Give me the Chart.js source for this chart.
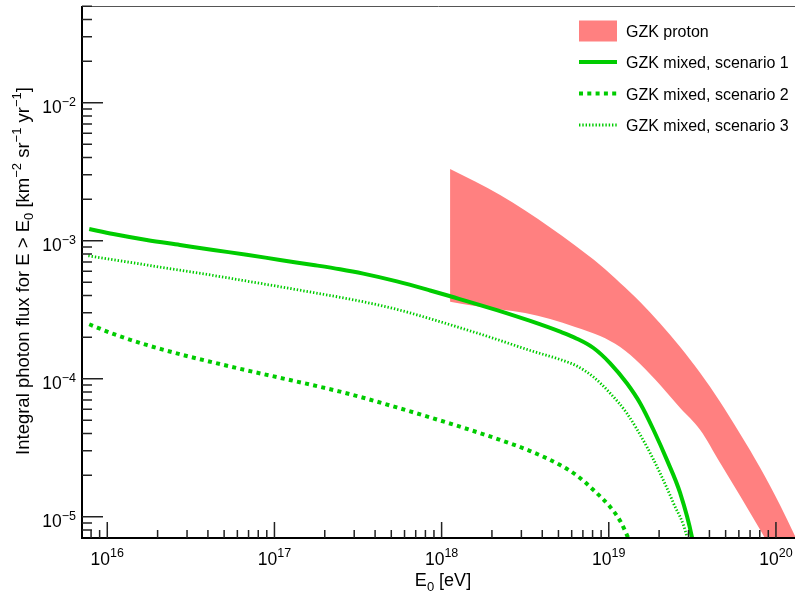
<!DOCTYPE html>
<html>
<head>
<meta charset="utf-8">
<script src="https://cdn.jsdelivr.net/npm/chart.js@4.4.0/dist/chart.umd.min.js"></script>
<style>
  html, body { margin: 0; padding: 0; background: #fff; }
</style>
</head>
<body>
<canvas id="gzkChart" width="795" height="592"></canvas>
<script>
// GZK mixed, scenario 1 (solid)
const mixed1E = [7.8e15, 1.086e16, 1.721e16, 2.72e16, 4.31e16, 6.82e16, 1.08e17, 1.709e17, 2.47e17, 3.4e17, 5.4e17, 8.54e17,
    1.124e18, 2.14e18, 3.39e18, 5.12e18, 6.44e18, 8.1e18, 1.02e19, 1.283e19, 1.54e19, 1.853e19, 2.23e19, 2.675e19, 3.14e19, 3.2e19];
const mixed1Flux = [1.216e-3, 1.118e-3, 1.012e-3, 9.31e-4, 8.56e-4, 7.92e-4, 7.25e-4, 6.67e-4, 6.21e-4, 5.77e-4, 5.07e-4, 4.36e-4,
    3.96e-4, 3.14e-4, 2.62e-4, 2.19e-4, 1.95e-4, 1.669e-4, 1.293e-4, 9.26e-5, 6.64e-5, 4.25e-5, 2.57e-5, 1.48e-5, 7.16e-6, 6.2e-6];

// GZK mixed, scenario 2 (dashed)
const mixed2E = [7.8e15, 1.086e16, 1.721e16, 2.72e16, 4.31e16, 6.82e16, 1.08e17, 1.709e17, 2.47e17, 3.4e17, 5.4e17, 8.54e17,
    1.35e18, 2.14e18, 3.39e18, 5.12e18, 6.44e18, 8.1e18, 1.02e19, 1.17e19, 1.31e19, 1.40e19];
const mixed2Flux = [2.48e-4, 2.112e-4, 1.757e-4, 1.505e-4, 1.311e-4, 1.15e-4, 1.015e-4, 8.96e-5, 8.06e-5, 7.28e-5, 6.19e-5, 5.24e-5,
    4.41e-5, 3.67e-5, 2.99e-5, 2.366e-5, 1.989e-5, 1.561e-5, 1.176e-5, 9.31e-6, 6.97e-6, 5.74e-6];

// GZK mixed, scenario 3 (dotted)
const mixed3E = [7.7e15, 1.086e16, 1.721e16, 2.72e16, 4.31e16, 6.82e16, 1.08e17, 1.709e17, 2.47e17, 3.4e17, 5.4e17, 8.54e17,
    1.35e18, 2.14e18, 3.39e18, 5.12e18, 6.44e18, 8.1e18, 1.02e19, 1.283e19, 1.69e19, 2.03e19, 2.44e19, 2.93e19, 2.99e19];
const mixed3Flux = [7.78e-4, 7.27e-4, 6.67e-4, 6.11e-4, 5.6e-4, 5.1e-4, 4.64e-4, 4.21e-4, 3.89e-4, 3.61e-4, 3.18e-4, 2.72e-4,
    2.3e-4, 1.927e-4, 1.601e-4, 1.377e-4, 1.236e-4, 1.029e-4, 7.84e-5, 5.61e-5, 3.21e-5, 2.06e-5, 1.25e-5, 7.16e-6, 6.2e-6];

// GZK proton band
const protonE = [1.124e18, 1.587e18, 2.239e18, 3.16e18, 4.46e18, 6.29e18, 8.88e18, 1.17e19, 1.541e19, 2.03e19, 2.675e19,
    3.524e19, 4.64e19, 6.11e19, 8.06e19, 1.061e20, 1.398e20];
const protonUpper = [3.31e-3, 2.685e-3, 2.144e-3, 1.655e-3, 1.246e-3, 9.23e-4, 6.67e-4, 4.94e-4, 3.6e-4, 2.512e-4, 1.697e-4,
    1.1e-4, 6.78e-5, 3.97e-5, 2.254e-5, 1.206e-5, 6.03e-6];
const protonLower = [3.61e-4, 3.36e-4, 3.17e-4, 2.99e-4, 2.71e-4, 2.369e-4, 2.039e-4, 1.697e-4, 1.278e-4, 9.0e-5, 6.13e-5,
    4.25e-5, 2.449e-5, 1.413e-5, 8.01e-6, 4.47e-6, 2.49e-6];

// axis ranges and tick labels (decade exponents)
const xRange = [7.06e15, 1.3e20];
const yRange = [7.01e-6, 5.02e-2];
const xTickExp = [16, 17, 18, 19, 20];
const yTickExp = [-5, -4, -3, -2];

const legendLabels = ["GZK proton", "GZK mixed, scenario 1", "GZK mixed, scenario 2", "GZK mixed, scenario 3"];

const FONT = '"Liberation Sans", Arial, sans-serif';
const GREEN = '#00cc00';
const PINK = '#ff8080';

const toPoints = (xs, ys) => xs.map((x, i) => ({ x: x, y: ys[i] }));

// text with sub/superscripts: parts = [text, size, dy]
function drawRich(ctx, parts, x, y, align) {
    let total = 0;
    parts.forEach(p => {
        ctx.font = p[1] + 'px ' + FONT;
        total += ctx.measureText(p[0]).width;
    });
    let cx = align === 'center' ? x - total / 2 : (align === 'right' ? x - total : x);
    parts.forEach(p => {
        ctx.font = p[1] + 'px ' + FONT;
        ctx.fillText(p[0], cx, y + p[2]);
        cx += ctx.measureText(p[0]).width;
    });
}

const rootFrame = {
    id: 'rootFrame',
    afterDraw(chart) {
        const ctx = chart.ctx;
        const a = chart.chartArea;
        const xs = chart.scales.x, ys = chart.scales.y;
        ctx.save();

        // top frame line
        ctx.strokeStyle = '#555';
        ctx.lineWidth = 1;
        ctx.beginPath();
        ctx.moveTo(a.left, a.top + 0.5);
        ctx.lineTo(a.right, a.top + 0.5);
        ctx.stroke();

        // axes
        ctx.strokeStyle = '#000';
        ctx.lineWidth = 2;
        ctx.beginPath();
        ctx.moveTo(a.left, a.top);
        ctx.lineTo(a.left, a.bottom);
        ctx.lineTo(a.right, a.bottom);
        ctx.stroke();

        // ticks (inside the frame)
        ctx.strokeStyle = '#222';
        ctx.lineWidth = 1.5;
        ctx.beginPath();
        for (let e = -7; e <= 0; e++) {
            for (let k = 1; k <= 9; k++) {
                const v = k * Math.pow(10, e);
                if (v < yRange[0] || v > yRange[1]) continue;
                const py = ys.getPixelForValue(v);
                ctx.moveTo(a.left, py);
                ctx.lineTo(a.left + (k === 1 ? 21 : 10), py);
            }
        }
        for (let e = 15; e <= 20; e++) {
            for (let k = 1; k <= 9; k++) {
                const v = k * Math.pow(10, e);
                if (v < xRange[0] || v > xRange[1]) continue;
                const px = xs.getPixelForValue(v);
                ctx.moveTo(px, a.bottom);
                ctx.lineTo(px, a.bottom - (k === 1 ? 16 : 8));
            }
        }
        ctx.stroke();

        // tick labels
        ctx.fillStyle = '#000';
        ctx.textBaseline = 'alphabetic';
        xTickExp.forEach(e => {
            const px = xs.getPixelForValue(Math.pow(10, e));
            drawRich(ctx, [['10', 17.5, 0], [String(e), 12.5, -8]], px, 565, 'center');
        });
        yTickExp.forEach(e => {
            const py = ys.getPixelForValue(Math.pow(10, e));
            drawRich(ctx, [['10', 17.5, 0], ['\u2212' + Math.abs(e), 12.5, -7]], 76, py + 10, 'right');
        });

        // axis titles
        drawRich(ctx, [['E', 18, 0], ['0', 13, 5], [' [eV]', 18, 0]], 443, 586, 'center');
        ctx.save();
        ctx.translate(29, 271);
        ctx.rotate(-Math.PI / 2);
        drawRich(ctx, [
            ['Integral photon flux for E > E', 18.5, 0], ['0', 13, 4],
            [' [km', 18.5, 0], ['\u22122', 13, -8],
            [' sr', 18.5, 0], ['\u22121', 13, -8],
            [' yr', 18.5, 0], ['\u22121', 13, -8], [']', 18.5, 0]
        ], 0, 0, 'center');
        ctx.restore();

        // legend
        const lx0 = 579, lx1 = 617, tx = 626;
        const rows = [31, 62, 93.5, 125];
        ctx.fillStyle = PINK;
        ctx.fillRect(lx0, rows[0] - 10.5, lx1 - lx0, 21);
        const lineSets = chart.data.datasets.slice(0, 3);
        lineSets.forEach((ds, i) => {
            ctx.strokeStyle = ds.borderColor;
            ctx.lineWidth = ds.borderWidth;
            ctx.setLineDash(ds.borderDash || []);
            ctx.beginPath();
            ctx.moveTo(lx0, rows[i + 1]);
            ctx.lineTo(lx1, rows[i + 1]);
            ctx.stroke();
        });
        ctx.setLineDash([]);
        ctx.fillStyle = '#000';
        ctx.font = '16px ' + FONT;
        legendLabels.forEach((t, i) => ctx.fillText(t, tx, rows[i] + 6));

        ctx.restore();
    }
};

const ctx = document.getElementById('gzkChart').getContext('2d');
const gzkChart = new Chart(ctx, {
    type: 'line',
    data: {
        datasets: [
            {
                label: legendLabels[1],
                data: toPoints(mixed1E, mixed1Flux),
                borderColor: GREEN,
                borderWidth: 4,
                cubicInterpolationMode: 'monotone',
                clip: 0
            },
            {
                label: legendLabels[2],
                data: toPoints(mixed2E, mixed2Flux),
                borderColor: GREEN,
                borderWidth: 4,
                borderDash: [4, 4.3],
                cubicInterpolationMode: 'monotone',
                clip: 0
            },
            {
                label: legendLabels[3],
                data: toPoints(mixed3E, mixed3Flux),
                borderColor: GREEN,
                borderWidth: 2.8,
                borderDash: [1.4, 1.9],
                cubicInterpolationMode: 'monotone',
                clip: 0
            },
            {
                label: legendLabels[0],
                data: toPoints(protonE, protonUpper),
                borderColor: PINK,
                borderWidth: 0,
                backgroundColor: PINK,
                fill: '+1',
                cubicInterpolationMode: 'monotone',
                clip: 0
            },
            {
                label: 'proton lower',
                data: toPoints(protonE, protonLower),
                borderColor: PINK,
                borderWidth: 0,
                fill: false,
                cubicInterpolationMode: 'monotone',
                clip: 0
            }
        ]
    },
    options: {
        responsive: false,
        animation: false,
        devicePixelRatio: 1,
        layout: { padding: { left: 82, top: 6, right: 0, bottom: 54 } },
        elements: { point: { radius: 0, hoverRadius: 0 } },
        plugins: {
            legend: { display: false },
            tooltip: { enabled: false }
        },
        scales: {
            x: { type: 'logarithmic', min: xRange[0], max: xRange[1], display: false },
            y: { type: 'logarithmic', min: yRange[0], max: yRange[1], display: false }
        }
    },
    plugins: [rootFrame]
});
</script>
</body>
</html>
